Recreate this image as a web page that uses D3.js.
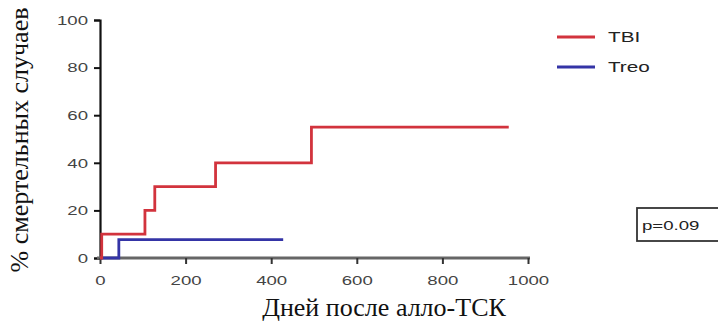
<!DOCTYPE html>
<html>
<head>
<meta charset="utf-8">
<script src="https://cdn.jsdelivr.net/npm/d3@7"></script>
<style>
  html, body { margin: 0; padding: 0; background: #fff; }
  svg { display: block; }
</style>
</head>
<body>
<svg id="chart" width="718" height="325"></svg>
<script>
// Cumulative mortality by conditioning regimen (step curves)
const seriesNames = ["TBI", "Treo"];
const seriesColors = ["#d2333d", "#3434a6"];
const tbiDays = [0, 4, 105, 128, 270, 494, 955];
const tbiPct = [0, 10, 20, 30, 40, 55, 55];
const treoDays = [0, 44, 428];
const treoPct = [0, 7.7, 7.7];
const xTicks = [0, 200, 400, 600, 800, 1000];
const yTicks = [0, 20, 40, 60, 80, 100];
const pLabel = "p=0.09";
const xTitle = "Дней после алло-ТСК";
const yTitle = "% смертельных случаев";

const svg = d3.select("#chart");
const x = d3.scaleLinear().domain([0, 1000]).range([100, 528]);
const y = d3.scaleLinear().domain([0, 100]).range([258, 20]);

const sansFont = "'Liberation Sans', Arial, sans-serif";
const serifFont = "'Liberation Serif', 'Times New Roman', serif";
const stretch = 1.38;

// y axis
const yAxis = svg.append("g").attr("transform", `translate(${x(0)},0)`)
  .call(d3.axisLeft(y).tickValues(yTicks).tickFormat(d3.format("d")).tickSize(6).tickPadding(4));
yAxis.select(".domain").attr("stroke", "#111").attr("stroke-width", 2.2);
yAxis.selectAll(".tick line").attr("stroke", "#111").attr("stroke-width", 2);
yAxis.selectAll(".tick text")
  .attr("font-family", sansFont).attr("font-size", 13.5).attr("fill", "#444")
  .attr("x", 0).attr("text-anchor", "end")
  .attr("transform", `translate(-12,0) scale(${stretch},1)`);

// x axis
const xAxis = svg.append("g").attr("transform", `translate(0,${y(0)})`)
  .call(d3.axisBottom(x).tickValues(xTicks).tickFormat(d3.format("d")).tickSize(6).tickPadding(5).tickSizeOuter(0));
xAxis.select(".domain").attr("stroke", "#666").attr("stroke-width", 2.8)
  .attr("d", `M${x(0) - 3},0H${x(1000) + 2}`);
xAxis.selectAll(".tick line").attr("stroke", "#333").attr("stroke-width", 2);
xAxis.selectAll(".tick text")
  .attr("font-family", sansFont).attr("font-size", 13.5).attr("fill", "#444")
  .attr("y", 0).attr("dy", "0.71em")
  .attr("transform", `translate(0,17) scale(${stretch},1)`);

// step curves
const line = d3.line().curve(d3.curveStepAfter)
  .x(d => x(d[0])).y(d => y(d[1]));
const curves = [
  d3.zip(treoDays, treoPct),
  d3.zip(tbiDays, tbiPct)
];
svg.append("path").datum(curves[0])
  .attr("d", line).attr("fill", "none")
  .attr("stroke", seriesColors[1]).attr("stroke-width", 2.8);
svg.append("path").datum(curves[1])
  .attr("d", line).attr("fill", "none")
  .attr("stroke", seriesColors[0]).attr("stroke-width", 2.8);

// legend
const legend = svg.append("g");
seriesNames.forEach((name, i) => {
  const ly = 37 + i * 30;
  legend.append("line").attr("x1", 557).attr("x2", 595).attr("y1", ly).attr("y2", ly)
    .attr("stroke", seriesColors[i]).attr("stroke-width", 2.8);
  legend.append("text").text(name)
    .attr("font-family", sansFont).attr("font-size", 15).attr("fill", "#222")
    .attr("dominant-baseline", "central")
    .attr("transform", `translate(608,${ly}) scale(1.38,1)`);
});

// p-value box
svg.append("rect").attr("x", 637).attr("y", 208).attr("width", 90).attr("height", 33)
  .attr("fill", "#fff").attr("stroke", "#333").attr("stroke-width", 1.8);
svg.append("text").text(pLabel)
  .attr("font-family", sansFont).attr("font-size", 13.5).attr("fill", "#222")
  .attr("dominant-baseline", "central")
  .attr("transform", `translate(642,225) scale(1.38,1)`);

// axis titles
svg.append("text").text(xTitle)
  .attr("font-family", serifFont).attr("font-size", 26).attr("fill", "#111")
  .attr("text-anchor", "middle").attr("x", 384).attr("y", 316);
svg.append("text").text(yTitle)
  .attr("font-family", serifFont).attr("font-size", 26).attr("fill", "#111")
  .attr("text-anchor", "middle")
  .attr("transform", "translate(28,140) rotate(-90)");
</script>
</body>
</html>
